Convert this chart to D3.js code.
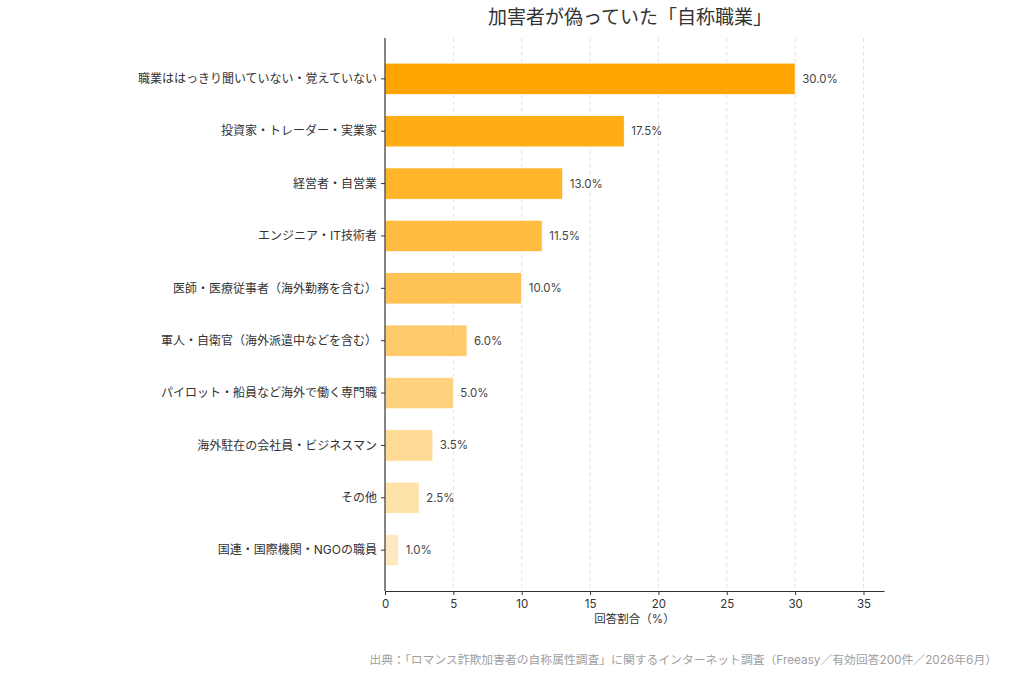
<!DOCTYPE html>
<html lang="ja">
<head>
  <meta charset="UTF-8">
  <title>加害者が偽っていた「自称職業」</title>
  <style>
    body { margin: 0; background: #fff; }
    #chart text { font-family: Inter, "Noto Sans CJK JP", "Noto Sans", sans-serif; }
  </style>
</head>
<body>
<div id="chart"></div>
<script src="https://d3js.org/d3.v7.min.js"></script>
<script>

const categories = [
  "職業ははっきり聞いていない・覚えていない",
  "投資家・トレーダー・実業家",
  "経営者・自営業",
  "エンジニア・IT技術者",
  "医師・医療従事者（海外勤務を含む）",
  "軍人・自衛官（海外派遣中などを含む）",
  "パイロット・船員など海外で働く専門職",
  "海外駐在の会社員・ビジネスマン",
  "その他",
  "国連・国際機関・NGOの職員"
];
const values = [30.0, 17.5, 13.0, 11.5, 10.0, 6.0, 5.0, 3.5, 2.5, 1.0];
const xTicks = [0, 5, 10, 15, 20, 25, 30, 35];

const width = 1024, height = 683;
const margin = { top: 38, right: 140, bottom: 92, left: 385 };

const svg = d3.select("#chart").append("svg")
  .attr("width", width)
  .attr("height", height);

const x = d3.scaleLinear()
  .domain([0, 36.5])
  .range([margin.left, width - margin.right]);

// band layout similar to matplotlib barh with 5% margins
const step = (height - margin.bottom - margin.top) / 10.56;
const y = d => margin.top + (0.78 + d) * step;
const barH = 0.6 * step;

// grid
svg.append("g")
  .selectAll("line")
  .data(xTicks.slice(1))
  .join("line")
  .attr("x1", d => x(d)).attr("x2", d => x(d))
  .attr("y1", margin.top).attr("y2", height - margin.bottom)
  .attr("stroke", "#dcdcdc")
  .attr("stroke-dasharray", "4,3")
  .attr("stroke-width", 0.8);

// bars
svg.append("g")
  .selectAll("rect")
  .data(values)
  .join("rect")
  .attr("x", x(0))
  .attr("y", (d, i) => y(i) - barH / 2)
  .attr("width", d => x(d) - x(0))
  .attr("height", barH)
  .attr("fill", "#FFA500")
  .attr("fill-opacity", (d, i) => 1 - i * 0.0833)
  .attr("stroke", "#fff")
  .attr("stroke-width", 0.8);

// value labels
svg.append("g")
  .selectAll("text")
  .data(values)
  .join("text")
  .attr("x", d => x(d) + 7)
  .attr("y", (d, i) => y(i))
  .attr("dy", "0.35em")
  .attr("font-size", 11.5)
  .attr("fill", "#444")
  .text(d => d.toFixed(1) + "%");

// y axis
const yAxis = svg.append("g");
yAxis.append("line")
  .attr("x1", margin.left).attr("x2", margin.left)
  .attr("y1", margin.top).attr("y2", height - margin.bottom)
  .attr("stroke", "#333").attr("stroke-width", 1.2);
yAxis.selectAll("line.tick")
  .data(categories)
  .join("line")
  .attr("class", "tick")
  .attr("x1", margin.left - 4).attr("x2", margin.left)
  .attr("y1", (d, i) => y(i)).attr("y2", (d, i) => y(i))
  .attr("stroke", "#333");
yAxis.selectAll("text")
  .data(categories)
  .join("text")
  .attr("x", margin.left - 8)
  .attr("y", (d, i) => y(i))
  .attr("dy", "0.35em")
  .attr("text-anchor", "end")
  .attr("font-size", 12)
  .attr("fill", "#333")
  .text(d => d);

// x axis
const xAxis = svg.append("g")
  .attr("transform", `translate(0,${height - margin.bottom})`)
  .call(d3.axisBottom(x).tickValues(xTicks).tickSize(4).tickSizeOuter(0));
xAxis.select(".domain").attr("stroke", "#333").attr("stroke-width", 1.2);
xAxis.selectAll(".tick line").attr("stroke", "#333");
xAxis.selectAll(".tick text")
  .attr("font-size", 11.5)
  .attr("fill", "#333")
  .attr("dy", "0.9em");

svg.append("text")
  .attr("x", (x(0) + x(36.5)) / 2)
  .attr("y", 623)
  .attr("text-anchor", "middle")
  .attr("font-size", 11.5)
  .attr("fill", "#333")
  .text("回答割合（%）");

// title
svg.append("text")
  .attr("x", 630)
  .attr("y", 24)
  .attr("text-anchor", "middle")
  .attr("font-size", 19)
  .attr("fill", "#333")
  .text("加害者が偽っていた「自称職業」");

// source note
svg.append("text")
  .attr("x", 997)
  .attr("y", 664)
  .attr("text-anchor", "end")
  .attr("font-size", 11.8)
  .attr("fill", "#a0a0a0")
  .text("出典：「ロマンス詐欺加害者の自称属性調査」に関するインターネット調査（Freeasy／有効回答200件／2026年6月）");

</script>
</body>
</html>
